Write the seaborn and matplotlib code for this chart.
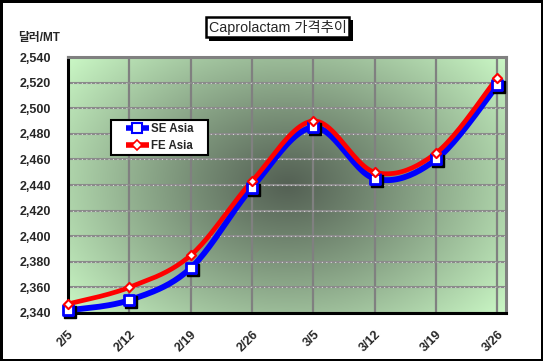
import numpy as np
import pandas as pd
import seaborn as sns
import matplotlib.pyplot as plt
import matplotlib.patheffects as pe
from matplotlib.lines import Line2D
from matplotlib.patches import Rectangle
from matplotlib.transforms import offset_copy

# values
dates = ["2/5", "2/12", "2/19", "2/26", "3/5", "3/12", "3/19", "3/26"]
se_asia = [2342, 2350, 2375, 2438, 2485, 2445, 2460, 2518]
fe_asia = [2347, 2360, 2385, 2443, 2490, 2450, 2465, 2524]
y_ticks = list(range(2340, 2541, 20))

sns.set_theme(style="white")
plt.rcParams["font.family"] = ["Liberation Sans", "Noto Sans CJK KR", "DejaVu Sans"]

df = pd.DataFrame({"x": np.arange(len(dates)), "date": dates,
                   "SE Asia": se_asia, "FE Asia": fe_asia})


def smooth(y, n=24):
    # Bezier smoothing in the style of spreadsheet "smoothed line"
    x = np.arange(len(y), dtype=float)
    y = np.asarray(y, dtype=float)
    pts = np.column_stack([x, y])
    out = []
    for i in range(len(pts) - 1):
        p0 = pts[max(i - 1, 0)]
        p1, p2 = pts[i], pts[i + 1]
        p3 = pts[min(i + 2, len(pts) - 1)]
        c1 = p1 + (p2 - p0) / 6
        c2 = p2 - (p3 - p1) / 6
        t = np.linspace(0, 1, n)[:, None]
        seg = ((1 - t) ** 3) * p1 + 3 * ((1 - t) ** 2) * t * c1 + 3 * (1 - t) * t ** 2 * c2 + t ** 3 * p2
        out.append(seg if i == 0 else seg[1:])
    out = np.vstack(out)
    return out[:, 0], out[:, 1]


fig = plt.figure(figsize=(5.43, 3.61), dpi=100)
fig.patch.set_facecolor("white")
fig.patch.set_edgecolor("black")
fig.patch.set_linewidth(2.5)
ax = fig.add_axes([0.125, 0.133, 0.807, 0.709])

# radial shaded background
gx, gy = np.meshgrid(np.linspace(0, 1, 300), np.linspace(0, 1, 200))
r = np.sqrt(((gx - 0.5) / 0.65) ** 2 + ((gy - 0.5) / 0.8) ** 2)
t = np.clip(r, 0, 1) ** 1.1
center = np.array([0.33, 0.38, 0.33])
edge = np.array([0.80, 0.98, 0.78])
img = center[None, None, :] * (1 - t[..., None]) + edge[None, None, :] * t[..., None]
ax.imshow(img, extent=(0, 1, 0, 1), transform=ax.transAxes, aspect="auto",
          zorder=0, origin="lower")

# grid
for xi in df["x"]:
    ax.axvline(xi, color="#808080", lw=1.6, zorder=1)
for yv in y_ticks:
    ax.axhline(yv, color="#8a8a8a", lw=1.5, zorder=1)
    ax.axhline(yv, color="#d8d8d8", lw=0.8, ls=(0, (1, 3)), zorder=1)

# smoothed lines
sx, sy = smooth(se_asia)
ax.plot(sx, sy, color="#0000ff", lw=4.2, zorder=3, solid_capstyle="butt", clip_on=False)
fx, fy = smooth(fe_asia)
ax.plot(fx, fy, color="#ff0000", lw=3.4, zorder=4, solid_capstyle="butt", clip_on=False)

# markers
shadow = offset_copy(ax.transData, fig=fig, x=2, y=-2, units="dots")
ax.plot(df["x"], df["SE Asia"], "s", ms=8, color="black", transform=shadow,
        zorder=4.5, clip_on=False)
sns.scatterplot(data=df, x="x", y="SE Asia", marker="s", s=60, color="white",
                edgecolor="#0000ff", linewidth=2, zorder=5, ax=ax, legend=False,
                clip_on=False)
sns.scatterplot(data=df, x="x", y="FE Asia", marker="D", s=22, color="white",
                edgecolor="#ff0000", linewidth=1.5, zorder=6, ax=ax, legend=False,
                clip_on=False)

ax.set_xlim(0, 7.14)
ax.set_ylim(2340, 2540)
ax.set_xticks(df["x"])
ax.set_xticklabels(dates, rotation=45, ha="right", rotation_mode="anchor",
                   fontsize=9, fontweight="bold")
ax.set_yticks(y_ticks)
ax.set_yticklabels([f"{v:,}" for v in y_ticks], fontsize=9, fontweight="bold")
ax.tick_params(axis="y", direction="in", length=4, width=1.2, color="black", pad=12)
ax.tick_params(axis="x", direction="in", length=0, pad=11)
ax.set_xlabel("")
ax.set_ylabel("")

for side in ["left", "bottom"]:
    ax.spines[side].set_color("black")
    ax.spines[side].set_linewidth(2.2)
for side in ["top", "right"]:
    ax.spines[side].set_color("#808080")
    ax.spines[side].set_linewidth(2.2)

# legend: white box drawn behind a frameless legend
ax.add_patch(Rectangle((0.098, 0.617), 0.222, 0.137, transform=ax.transAxes,
                       fc="white", ec="black", lw=1.5, zorder=9))
handles = [
    Line2D([], [], color="#0000ff", lw=4, solid_capstyle="butt", marker="s", ms=7,
           mfc="white", mec="#0000ff", mew=1.5),
    Line2D([], [], color="#ff0000", lw=4, solid_capstyle="butt", marker="D", ms=5,
           mfc="white", mec="#ff0000", mew=1.2),
]
leg = ax.legend(handles, ["SE Asia", "FE Asia"], loc="center",
                bbox_to_anchor=(0.209, 0.686), frameon=False,
                prop={"weight": "bold", "size": 8.3}, handlelength=2.0,
                handletextpad=0.2, borderpad=0, labelspacing=0.45, borderaxespad=0)
leg.set_zorder(10)

title = fig.text(0.384, 0.925, "Caprolactam 가격추이", fontsize=10.3, va="center", ha="left",
                 bbox=dict(boxstyle="square,pad=0.2", fc="white", ec="black", lw=1.8))
title.get_bbox_patch().set_path_effects([
    pe.SimplePatchShadow(offset=(2.5, -2.5), shadow_rgbFace="black", alpha=1),
    pe.Normal(),
])
fig.text(0.033, 0.896, "달러/MT", fontsize=8.5, fontweight="bold", va="center", ha="left")

fig.savefig("out.png", dpi=100)
